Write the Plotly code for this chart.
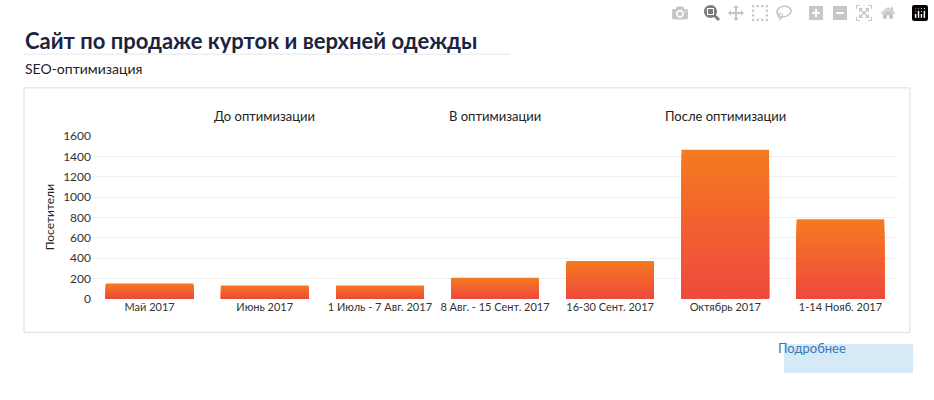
import plotly.graph_objects as go
import numpy as np

categories = ["Май 2017", "Июнь 2017", "1 Июль - 7 Авг. 2017", "8 Авг. - 15 Сент. 2017",
              "16-30 Сент. 2017", "Октябрь 2017", "1-14 Нояб. 2017"]
visitors = [150, 130, 130, 205, 370, 1465, 780]
stage_labels = ["До оптимизации", "В оптимизации", "После оптимизации"]
stage_positions = ["Июнь 2017", "8 Авг. - 15 Сент. 2017", "Октябрь 2017"]
y_ticks = [0, 200, 400, 600, 800, 1000, 1200, 1400, 1600]

W, H = 934, 400
def px(x): return x / W
def py(y): return 1 - y / H

top_rgb = np.array([245, 122, 32])
bot_rgb = np.array([239, 72, 64])

fig = go.Figure()
# вертикальный градиент через наложение баров
N = 30
vals = np.array(visitors, dtype=float)
for k in range(N):
    frac = (N - k) / N
    c = bot_rgb + (top_rgb - bot_rgb) * frac
    fig.add_trace(go.Bar(
        x=categories, y=vals * frac, width=0.76,
        marker=dict(color=f"rgb({int(c[0])},{int(c[1])},{int(c[2])})", line=dict(width=0)),
        hoverinfo="skip" if k else "y", showlegend=False))

fig.update_layout(
    width=W, height=H, barmode="overlay",
    margin=dict(l=0, r=0, t=0, b=0),
    paper_bgcolor="white", plot_bgcolor="white",
    font=dict(family="Lato", size=11, color="#333"),
    xaxis=dict(domain=[px(92), px(898)], tickfont=dict(size=11, color="#333"),
               showgrid=False, showline=False, ticks=""),
    yaxis=dict(domain=[py(302), py(133)], range=[0, 1600], tickvals=y_ticks,
               gridcolor="#f0f0f0", zeroline=False, tickfont=dict(size=12, color="#333"),
               ticks="", ticklen=0),
    shapes=[
        dict(type="rect", xref="paper", yref="paper", x0=px(24), x1=px(910), y0=py(337), y1=py(83),
             line=dict(color="#dcdcdc", width=1), layer="below"),
        dict(type="line", xref="paper", yref="paper", x0=px(24), x1=px(510), y0=py(48), y1=py(48),
             line=dict(color="#e6e6e6", width=1)),
        dict(type="rect", xref="paper", yref="paper", x0=px(784), x1=px(913), y0=py(379), y1=py(349),
             fillcolor="#d6e9f7", line=dict(width=0), layer="below"),
    ],
)

fig.add_annotation(text="<b>Сайт по продаже курток и верхней одежды</b>", xref="paper", yref="paper",
                   x=px(23), y=py(34), xanchor="left", yanchor="middle", showarrow=False,
                   font=dict(size=22, color="#1c2340"))
fig.add_annotation(text="SEO-оптимизация", xref="paper", yref="paper", x=px(23), y=py(63),
                   xanchor="left", yanchor="middle", showarrow=False, font=dict(size=14, color="#222"))
fig.add_annotation(text="Посетители", xref="paper", yref="paper", x=px(40), y=py(218),
                   textangle=-90, showarrow=False, font=dict(size=12, color="#222"))
fig.add_annotation(text="Подробнее", xref="paper", yref="paper", x=px(848), y=py(364),
                   showarrow=False, font=dict(size=13, color="#3a78b5"))
for lab, pos in zip(stage_labels, stage_positions):
    fig.add_annotation(text=lab, x=pos, xref="x", yref="paper", y=py(102),
                       showarrow=False, font=dict(size=13, color="#222"))

fig.write_html("out.html", post_script="document.body.style.margin='0';document.body.style.overflow='hidden';")
